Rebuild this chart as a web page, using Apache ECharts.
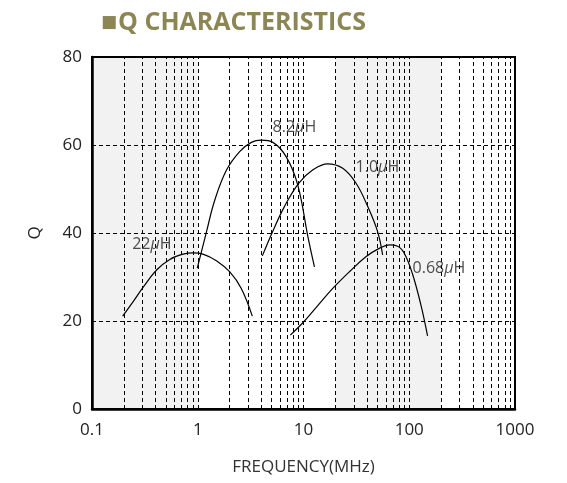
<!DOCTYPE html>
<html>
<head>
<meta charset="utf-8">
<script src="https://cdn.jsdelivr.net/npm/echarts@6/dist/echarts.min.js"></script>
<style>html,body{margin:0;padding:0;background:#fff}#c{width:567px;height:483px}</style>
</head>
<body>
<div id="c"></div>
<script>
const freq22 = [0.195, 0.245, 0.305, 0.408, 0.544, 0.727, 0.903, 1.12, 1.5, 2.0, 2.58, 3.28];
const q22 = [21.1, 24.4, 27.7, 31.6, 34.0, 35.2, 35.5, 35.2, 33.7, 31.2, 27.4, 21.1];
const freq82 = [0.99, 1.21, 1.45, 1.87, 2.49, 3.21, 3.99, 5.13, 6.87, 8.83, 11.0, 12.7];
const q82 = [32.0, 40.3, 47.5, 54.3, 58.5, 60.6, 61.1, 60.6, 57.3, 50.9, 39.2, 32.3];
const freq10 = [4.08, 5.1, 6.6, 9.0, 12.2, 16.9, 23.5, 31.4, 40.5, 50.2, 56];
const q10 = [34.8, 40.3, 46.0, 51.3, 54.3, 55.7, 54.7, 51.3, 46.0, 40.3, 35.0];
const freq068 = [7.5, 9.86, 13.2, 18.9, 27.2, 38.9, 52, 64.8, 77.6, 89.7, 107, 129, 149];
const q068 = [16.8, 19.6, 23.1, 27.4, 31.2, 34.6, 36.5, 37.3, 37.0, 35.4, 30.8, 23.6, 16.6];
const xTicks = [0.1, 1, 10, 100, 1000];
const yTicks = [0, 20, 40, 60, 80];
const gridLinesX = [0.2,0.3,0.4,0.5,0.6,0.7,0.8,0.9,1,2,3,4,5,6,7,8,9,10,20,30,40,50,60,70,80,90,100,200,300,400,500,600,700,800,900];
const gridLinesY = [20, 40, 60];
const grayBands = [[0.1, 1], [20, 200]];
const seriesNames = ['22μH', '8.2μH', '1.0μH', '0.68μH'];
const labelPos = [[0.368, 37.5], [8.2, 63.9], [50, 55], [191, 32]];

const zip = (a, b) => a.map((v, i) => [v, b[i]]);
const lineStyle = { color: '#000', width: 1.2 };
const curves = [[freq22, q22], [freq82, q82], [freq10, q10], [freq068, q068]].map((d, i) => ({
  type: 'line', name: seriesNames[i], data: zip(d[0], d[1]), smooth: 0.4,
  showSymbol: false, lineStyle: lineStyle, z: 5, silent: true
}));

const richLab = {
  fontFamily: 'Open Sans', fontSize: 16, color: '#222',
  rich: { i: { fontStyle: 'italic', fontFamily: 'Open Sans', fontSize: 16, color: '#222' } }
};

const labels = {
  type: 'scatter', symbolSize: 0, silent: true, z: 6,
  data: labelPos.map((p, i) => ({ value: p, name: seriesNames[i] })),
  label: Object.assign({
    show: true, position: 'inside',
    formatter: p => p.name.replace('μ', '{i|μ}')
  }, richLab)
};

const dash = { color: '#000', type: [4, 3], width: 1 };
const helper = {
  type: 'line', data: [], silent: true, z: 1,
  markArea: {
    silent: true,
    itemStyle: { color: '#f2f2f2' },
    data: grayBands.map(b => [{ xAxis: b[0] }, { xAxis: b[1] }])
  },
  markLine: {
    silent: true, symbol: 'none', animation: false,
    label: { show: false },
    lineStyle: dash,
    data: gridLinesX.map(v => ({ xAxis: v })).concat(gridLinesY.map(v => ({ yAxis: v })))
  }
};

const chart = echarts.init(document.getElementById('c'));
chart.setOption({
  animation: false,
  backgroundColor: '#fff',
  title: {
    text: '{s|■}Q CHARACTERISTICS', left: 96, top: 5,
    textStyle: { fontFamily: 'Open Sans', fontWeight: 'bold', fontSize: 25, color: '#8c8655',
      rich: { s: { fontFamily: 'DejaVu Sans', fontSize: 17, color: '#8c8655', padding: [0, 1, 0, 0] } } }
  },
  grid: { left: 92, right: 52, top: 57, bottom: 74, show: true, z: 10, borderColor: '#000', borderWidth: 2, backgroundColor: 'transparent' },
  xAxis: {
    type: 'log', logBase: 10, min: xTicks[0], max: xTicks[xTicks.length - 1], z: 10,
    name: 'FREQUENCY(MHz)', nameLocation: 'middle', nameGap: 50,
    nameTextStyle: { fontFamily: 'Open Sans', fontSize: 17, color: '#333' },
    axisLine: { lineStyle: { color: '#000', width: 2.5 } },
    axisTick: { show: false },
    splitLine: { show: false },
    axisLabel: { fontFamily: 'Open Sans', fontSize: 17, color: '#222', margin: 13,
      formatter: v => xTicks.includes(+v) ? String(+v) : '' }
  },
  yAxis: {
    type: 'value', min: yTicks[0], max: yTicks[yTicks.length - 1], interval: 20, z: 10,
    name: 'Q', nameLocation: 'middle', nameGap: 48,
    nameTextStyle: { fontFamily: 'Open Sans', fontSize: 17, color: '#222' },
    axisLine: { show: true, lineStyle: { color: '#000', width: 2.5 } },
    axisTick: { show: false },
    splitLine: { show: false },
    axisLabel: { fontFamily: 'Open Sans', fontSize: 17, color: '#222', margin: 10 }
  },
  series: [helper].concat(curves).concat([labels])
});
</script>
</body>
</html>
